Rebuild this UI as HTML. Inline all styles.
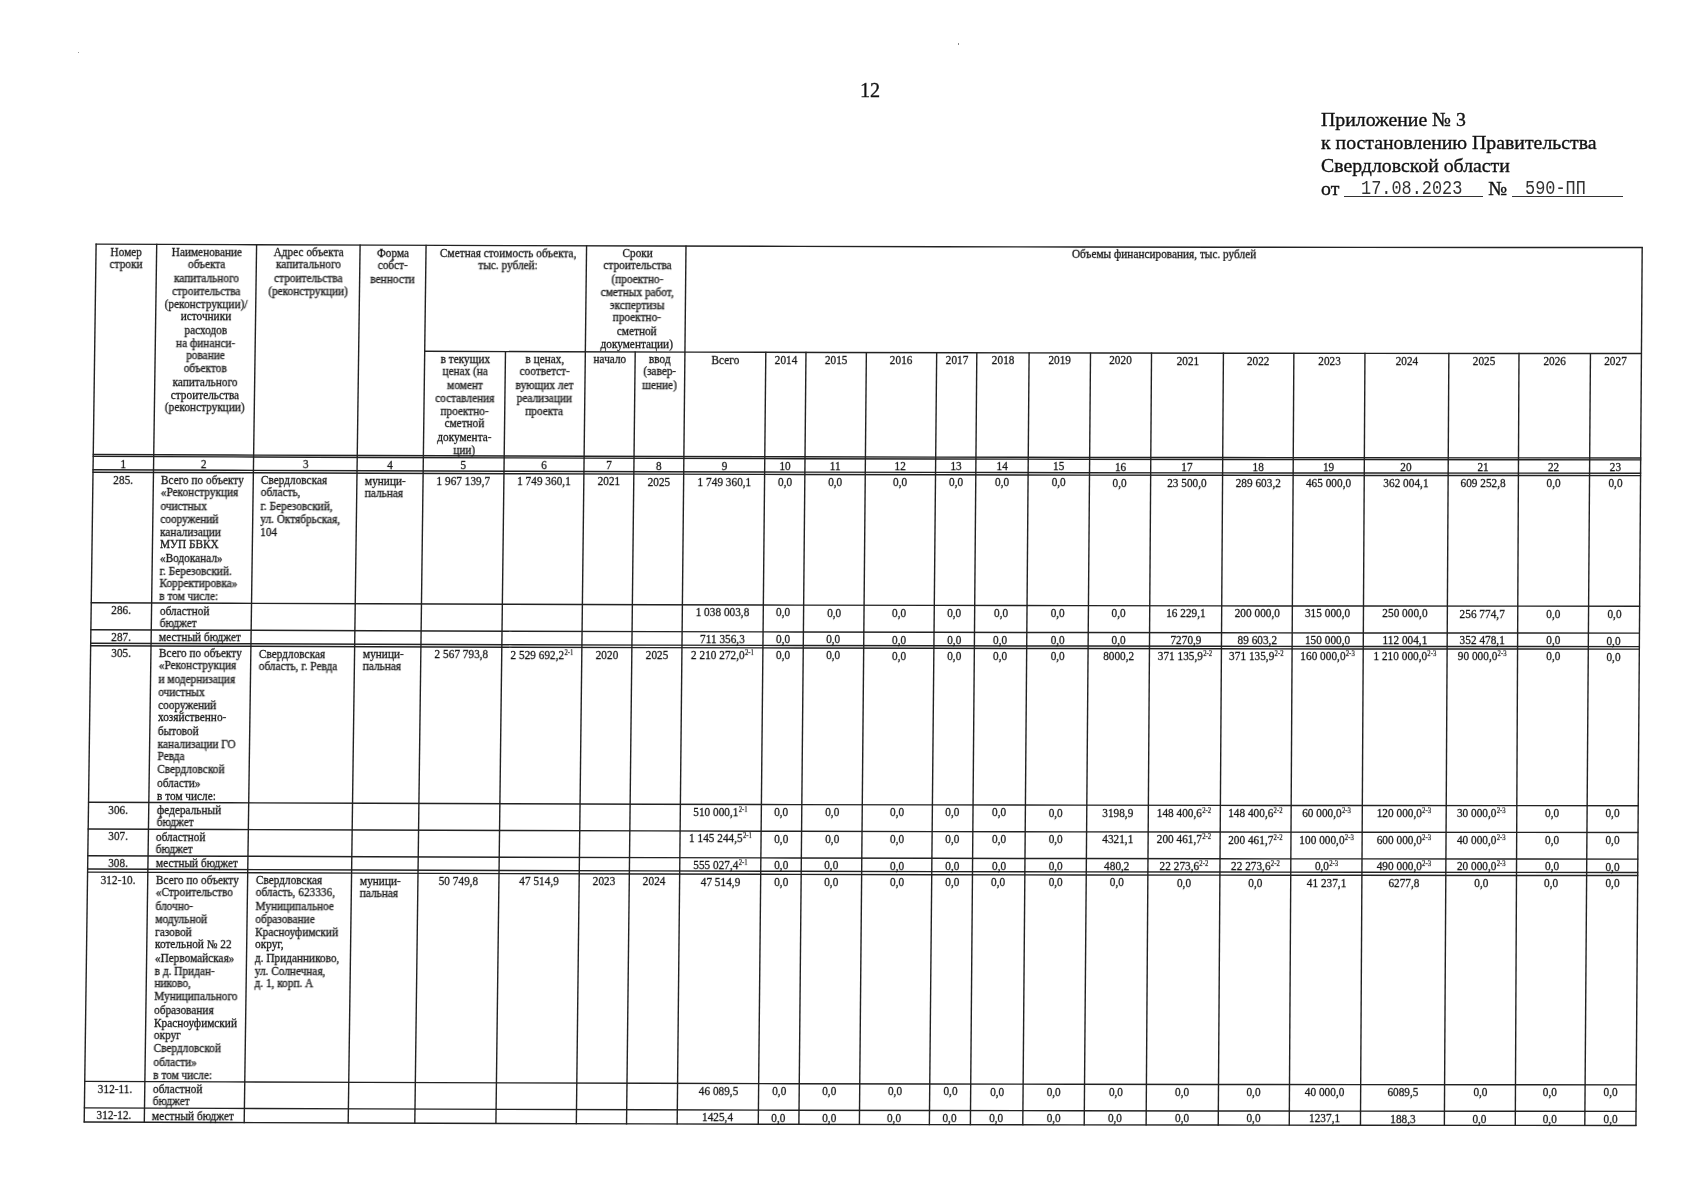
<!DOCTYPE html>
<html><head><meta charset="utf-8">
<style>
html,body{margin:0;padding:0;background:#fff;}
body{width:1702px;height:1200px;position:relative;overflow:hidden;font-family:"Liberation Serif",serif;color:#111;}
svg{position:absolute;left:0;top:0;}
svg line,svg polyline{stroke:#222;stroke-width:1.40;fill:none}
.t{position:absolute;font-size:11.30px;line-height:12.264px;white-space:nowrap;transform-origin:0 0;-webkit-text-stroke:0.25px #111;will-change:transform}
.sp{font-size:6.8px;vertical-align:3.0px;line-height:0;margin-left:0.2px;-webkit-text-stroke:0.15px #111}
.pg{position:absolute;font-size:20.2px;line-height:24px;-webkit-text-stroke:0.3px #111;will-change:transform}
.ap{position:absolute;font-size:19.8px;line-height:22.9px;white-space:nowrap;-webkit-text-stroke:0.35px #111;will-change:transform}
.ul{display:inline-block;border-bottom:1.4px solid #333;height:14px;vertical-align:-2px}
.sp2{display:inline-block;width:5px}
.mono{position:absolute;font-family:"Liberation Mono",monospace;font-size:16.9px;line-height:20px;transform:scaleY(1.17);transform-origin:0 0;color:#333}
</style></head><body>
<svg width="1702" height="1200" viewBox="0 0 1702 1200"><polyline points="95.52,244.10 236.18,244.63 376.84,245.13 517.50,245.61 658.17,246.04 798.83,246.41 939.49,246.73 1080.15,246.98 1220.81,247.18 1361.47,247.33 1502.14,247.45 1642.80,247.55"/><polyline points="424.12,351.30 559.44,351.74 694.77,352.14 830.09,352.49 965.42,352.78 1100.74,353.01 1236.07,353.20 1371.39,353.34 1506.71,353.45 1642.04,353.55"/><polyline points="92.66,454.49 233.45,455.02 374.23,455.53 515.02,456.00 655.80,456.43 796.59,456.81 937.37,457.12 1078.15,457.38 1218.94,457.57 1359.72,457.73 1500.51,457.85 1641.29,457.95"/><polyline points="92.64,456.39 233.42,456.92 374.21,457.43 514.99,457.90 655.78,458.33 796.57,458.71 937.35,459.02 1078.14,459.28 1218.92,459.47 1359.71,459.63 1500.49,459.75 1641.28,459.85"/><polyline points="92.46,469.79 233.25,470.32 374.04,470.82 514.84,471.30 655.63,471.73 796.42,472.11 937.22,472.42 1078.01,472.68 1218.80,472.87 1359.60,473.03 1500.39,473.15 1641.18,473.25"/><polyline points="92.42,472.19 233.22,472.72 374.01,473.22 514.81,473.70 655.60,474.13 796.40,474.51 937.19,474.82 1077.99,475.08 1218.78,475.27 1359.58,475.43 1500.37,475.55 1641.17,475.65"/><polyline points="90.65,602.79 231.52,603.31 372.39,603.82 513.26,604.30 654.13,604.73 795.01,605.10 935.88,605.42 1076.75,605.67 1217.62,605.87 1358.49,606.03 1499.36,606.15 1640.23,606.25"/><polyline points="90.29,629.69 231.17,630.21 372.06,630.72 512.95,631.19 653.83,631.63 794.72,632.00 935.61,632.32 1076.49,632.57 1217.38,632.77 1358.27,632.93 1499.15,633.05 1640.04,633.15"/><polyline points="90.10,643.19 231.00,643.71 371.89,644.22 512.79,644.69 653.68,645.13 794.58,645.50 935.47,645.82 1076.36,646.07 1217.26,646.27 1358.15,646.43 1499.05,646.55 1639.94,646.65"/><polyline points="90.07,645.69 230.96,646.21 371.86,646.72 512.76,647.19 653.65,647.63 794.55,648.00 935.44,648.32 1076.34,648.57 1217.24,648.77 1358.13,648.93 1499.03,649.05 1639.93,649.15"/><polyline points="87.94,802.28 228.93,802.80 369.92,803.31 510.90,803.79 651.89,804.22 792.88,804.60 933.87,804.91 1074.85,805.17 1215.84,805.37 1356.83,805.52 1497.82,805.64 1638.80,805.75"/><polyline points="87.58,828.98 228.58,829.50 369.59,830.01 510.59,830.49 651.59,830.92 792.60,831.30 933.60,831.61 1074.60,831.87 1215.60,832.07 1356.61,832.22 1497.61,832.34 1638.61,832.45"/><polyline points="87.22,855.68 228.24,856.20 369.25,856.71 510.27,857.19 651.29,857.62 792.31,858.00 933.33,858.31 1074.35,858.57 1215.37,858.77 1356.39,858.92 1497.40,859.04 1638.42,859.15"/><polyline points="87.04,868.98 228.06,869.50 369.09,870.01 510.12,870.49 651.14,870.92 792.17,871.30 933.20,871.61 1074.22,871.87 1215.25,872.07 1356.27,872.22 1497.30,872.34 1638.33,872.45"/><polyline points="86.99,872.08 228.02,872.60 369.05,873.11 510.08,873.59 651.11,874.02 792.14,874.40 933.16,874.71 1074.19,874.97 1215.22,875.17 1356.25,875.32 1497.28,875.44 1638.31,875.55"/><polyline points="84.15,1081.38 225.30,1081.89 366.45,1082.40 507.60,1082.88 648.75,1083.31 789.91,1083.69 931.06,1084.01 1072.21,1084.27 1213.36,1084.47 1354.51,1084.62 1495.66,1084.74 1636.81,1084.85"/><polyline points="83.79,1107.88 224.96,1108.39 366.13,1108.90 507.29,1109.38 648.46,1109.81 789.62,1110.19 930.79,1110.51 1071.95,1110.77 1213.12,1110.97 1354.29,1111.12 1495.45,1111.24 1636.62,1111.35"/><polyline points="83.60,1121.97 224.78,1122.48 365.95,1123.00 507.12,1123.48 648.30,1123.91 789.47,1124.29 930.65,1124.61 1071.82,1124.87 1213.00,1125.07 1354.17,1125.22 1495.34,1125.34 1636.52,1125.45"/><line x1="96.12" y1="243.50" x2="84.20" y2="1122.58"/><line x1="156.72" y1="243.73" x2="144.29" y2="1122.78"/><line x1="256.61" y1="244.10" x2="244.18" y2="1123.16"/><line x1="360.11" y1="244.48" x2="348.19" y2="1123.53"/><line x1="426.08" y1="244.71" x2="414.80" y2="1123.77"/><line x1="505.49" y1="350.97" x2="495.91" y2="1124.04"/><line x1="586.58" y1="245.23" x2="576.32" y2="1124.30"/><line x1="635.21" y1="351.37" x2="626.53" y2="1124.45"/><line x1="686.00" y1="245.52" x2="677.16" y2="1124.59"/><line x1="765.81" y1="351.73" x2="758.26" y2="1124.81"/><line x1="805.98" y1="351.83" x2="798.88" y2="1124.91"/><line x1="866.37" y1="351.97" x2="859.38" y2="1125.05"/><line x1="936.69" y1="352.12" x2="929.37" y2="1125.20"/><line x1="976.82" y1="352.20" x2="970.39" y2="1125.29"/><line x1="1029.11" y1="352.29" x2="1022.80" y2="1125.38"/><line x1="1090.51" y1="352.40" x2="1084.20" y2="1125.49"/><line x1="1151.53" y1="352.49" x2="1146.12" y2="1125.58"/><line x1="1223.42" y1="352.58" x2="1218.23" y2="1125.67"/><line x1="1293.87" y1="352.66" x2="1289.25" y2="1125.76"/><line x1="1364.96" y1="352.73" x2="1360.45" y2="1125.83"/><line x1="1448.86" y1="352.81" x2="1444.35" y2="1125.90"/><line x1="1519.00" y1="352.86" x2="1515.28" y2="1125.96"/><line x1="1590.45" y1="352.91" x2="1584.81" y2="1126.01"/><line x1="1642.20" y1="246.95" x2="1635.92" y2="1126.05"/></svg>
<div class="t" style="left:96.04px;top:244.61px;width:60.60px;text-align:center;transform:matrix(1,0.00223,-0.01387,1.060,0,0)">Номер<br>строки</div>
<div class="t" style="left:156.64px;top:244.86px;width:99.90px;text-align:center;transform:matrix(1,0.00223,-0.01416,1.060,0,0)">Наименование<br>объекта<br>капитального<br>строительства<br>(реконструкции)/<br>источники<br>расходов<br>на финанси-<br>рование<br>объектов<br>капитального<br>строительства<br>(реконструкции)</div>
<div class="t" style="left:256.54px;top:245.23px;width:103.50px;text-align:center;transform:matrix(1,0.00223,-0.01387,1.060,0,0)">Адрес объекта<br>капитального<br>строительства<br>(реконструкции)</div>
<div class="t" style="left:360.04px;top:245.58px;width:65.98px;text-align:center;transform:matrix(1,0.00223,-0.01321,1.060,0,0)">Форма<br>собст-<br>венности</div>
<div class="t" style="left:428.02px;top:245.85px;width:160.51px;text-align:center;transform:matrix(1,0.00223,-0.01226,1.060,0,0)">Сметная стоимость объекта,<br>тыс. рублей:</div>
<div class="t" style="left:588.03px;top:246.32px;width:99.44px;text-align:center;transform:matrix(1,0.00223,-0.01088,1.060,0,0)">Сроки<br>строительства<br>(проектно-<br>сметных работ,<br>экспертизы<br>проектно-<br>сметной<br>документации)</div>
<div class="t" style="left:685.96px;top:246.49px;width:956.22px;text-align:center;transform:matrix(1,0.00223,-0.00861,1.060,0,0)">Объемы финансирования, тыс. рублей</div>
<div class="t" style="left:424.66px;top:351.80px;width:80.77px;text-align:center;transform:matrix(1,0.00223,-0.01263,1.060,0,0)">в текущих<br>ценах (на<br>момент<br>составления<br>проектно-<br>сметной<br>документа-<br>ции)</div>
<div class="t" style="left:505.43px;top:352.07px;width:79.86px;text-align:center;transform:matrix(1,0.00223,-0.01204,1.060,0,0)">в ценах,<br>соответст-<br>вующих лет<br>реализации<br>проекта</div>
<div class="t" style="left:585.29px;top:352.30px;width:49.87px;text-align:center;transform:matrix(1,0.00223,-0.01146,1.060,0,0)">начало</div>
<div class="t" style="left:635.16px;top:352.45px;width:49.73px;text-align:center;transform:matrix(1,0.00223,-0.01066,1.060,0,0)">ввод<br>(завер-<br>шение)</div>
<div class="t" style="left:684.89px;top:352.59px;width:80.88px;text-align:center;transform:matrix(1,0.00223,-0.00993,1.060,0,0)">Всего</div>
<div class="t" style="left:765.78px;top:352.79px;width:40.17px;text-align:center;transform:matrix(1,0.00223,-0.00949,1.060,0,0)">2014</div>
<div class="t" style="left:805.94px;top:352.89px;width:60.39px;text-align:center;transform:matrix(1,0.00223,-0.00912,1.060,0,0)">2015</div>
<div class="t" style="left:866.33px;top:353.03px;width:70.33px;text-align:center;transform:matrix(1,0.00223,-0.00927,1.060,0,0)">2016</div>
<div class="t" style="left:936.66px;top:353.17px;width:40.13px;text-align:center;transform:matrix(1,0.00223,-0.00891,1.060,0,0)">2017</div>
<div class="t" style="left:976.79px;top:353.25px;width:52.29px;text-align:center;transform:matrix(1,0.00223,-0.00825,1.060,0,0)">2018</div>
<div class="t" style="left:1029.08px;top:353.33px;width:61.40px;text-align:center;transform:matrix(1,0.00223,-0.00818,1.060,0,0)">2019</div>
<div class="t" style="left:1090.48px;top:353.43px;width:61.03px;text-align:center;transform:matrix(1,0.00223,-0.00759,1.060,0,0)">2020</div>
<div class="t" style="left:1151.51px;top:353.51px;width:71.88px;text-align:center;transform:matrix(1,0.00223,-0.00686,1.060,0,0)">2021</div>
<div class="t" style="left:1223.40px;top:353.60px;width:70.46px;text-align:center;transform:matrix(1,0.00223,-0.00635,1.060,0,0)">2022</div>
<div class="t" style="left:1293.85px;top:353.68px;width:71.09px;text-align:center;transform:matrix(1,0.00223,-0.00591,1.060,0,0)">2023</div>
<div class="t" style="left:1364.94px;top:353.73px;width:83.90px;text-align:center;transform:matrix(1,0.00223,-0.00584,1.060,0,0)">2024</div>
<div class="t" style="left:1448.84px;top:353.81px;width:70.14px;text-align:center;transform:matrix(1,0.00223,-0.00533,1.060,0,0)">2025</div>
<div class="t" style="left:1518.98px;top:353.87px;width:71.45px;text-align:center;transform:matrix(1,0.00223,-0.00606,1.060,0,0)">2026</div>
<div class="t" style="left:1590.43px;top:353.93px;width:50.99px;text-align:center;transform:matrix(1,0.00223,-0.00723,1.060,0,0)">2027</div>
<div class="t" style="left:93.16px;top:456.70px;width:60.47px;text-align:center;transform:matrix(1,0.00223,-0.01387,1.060,0,0)">1</div>
<div class="t" style="left:153.63px;top:456.95px;width:99.90px;text-align:center;transform:matrix(1,0.00223,-0.01416,1.060,0,0)">2</div>
<div class="t" style="left:253.53px;top:457.32px;width:103.63px;text-align:center;transform:matrix(1,0.00223,-0.01387,1.060,0,0)">3</div>
<div class="t" style="left:357.16px;top:457.67px;width:66.13px;text-align:center;transform:matrix(1,0.00223,-0.01321,1.060,0,0)">4</div>
<div class="t" style="left:423.29px;top:457.90px;width:80.82px;text-align:center;transform:matrix(1,0.00223,-0.01263,1.060,0,0)">5</div>
<div class="t" style="left:504.11px;top:458.16px;width:79.93px;text-align:center;transform:matrix(1,0.00223,-0.01204,1.060,0,0)">6</div>
<div class="t" style="left:584.05px;top:458.40px;width:49.92px;text-align:center;transform:matrix(1,0.00223,-0.01146,1.060,0,0)">7</div>
<div class="t" style="left:633.97px;top:458.54px;width:49.86px;text-align:center;transform:matrix(1,0.00223,-0.01066,1.060,0,0)">8</div>
<div class="t" style="left:683.82px;top:458.69px;width:80.91px;text-align:center;transform:matrix(1,0.00223,-0.00993,1.060,0,0)">9</div>
<div class="t" style="left:764.74px;top:458.89px;width:40.23px;text-align:center;transform:matrix(1,0.00223,-0.00949,1.060,0,0)">10</div>
<div class="t" style="left:804.96px;top:458.99px;width:60.41px;text-align:center;transform:matrix(1,0.00223,-0.00912,1.060,0,0)">11</div>
<div class="t" style="left:865.37px;top:459.12px;width:70.28px;text-align:center;transform:matrix(1,0.00223,-0.00927,1.060,0,0)">12</div>
<div class="t" style="left:935.65px;top:459.27px;width:40.26px;text-align:center;transform:matrix(1,0.00223,-0.00891,1.060,0,0)">13</div>
<div class="t" style="left:975.91px;top:459.34px;width:52.31px;text-align:center;transform:matrix(1,0.00223,-0.00825,1.060,0,0)">14</div>
<div class="t" style="left:1028.21px;top:459.43px;width:61.40px;text-align:center;transform:matrix(1,0.00223,-0.00818,1.060,0,0)">15</div>
<div class="t" style="left:1089.61px;top:459.53px;width:61.16px;text-align:center;transform:matrix(1,0.00223,-0.00759,1.060,0,0)">16</div>
<div class="t" style="left:1150.77px;top:459.61px;width:71.91px;text-align:center;transform:matrix(1,0.00223,-0.00686,1.060,0,0)">17</div>
<div class="t" style="left:1222.68px;top:459.70px;width:70.53px;text-align:center;transform:matrix(1,0.00223,-0.00635,1.060,0,0)">18</div>
<div class="t" style="left:1293.22px;top:459.77px;width:71.11px;text-align:center;transform:matrix(1,0.00223,-0.00591,1.060,0,0)">19</div>
<div class="t" style="left:1364.32px;top:459.83px;width:83.90px;text-align:center;transform:matrix(1,0.00223,-0.00584,1.060,0,0)">20</div>
<div class="t" style="left:1448.22px;top:459.91px;width:70.25px;text-align:center;transform:matrix(1,0.00223,-0.00533,1.060,0,0)">21</div>
<div class="t" style="left:1518.47px;top:459.96px;width:71.18px;text-align:center;transform:matrix(1,0.00223,-0.00606,1.060,0,0)">22</div>
<div class="t" style="left:1589.65px;top:460.03px;width:51.01px;text-align:center;transform:matrix(1,0.00223,-0.00723,1.060,0,0)">23</div>
<div class="t" style="left:92.94px;top:472.70px;width:60.46px;text-align:center;transform:matrix(1,0.00223,-0.01387,1.060,0,0)">285.</div>
<div class="t" style="left:161.41px;top:472.95px;width:91.90px;text-align:left;transform:matrix(1,0.00223,-0.01416,1.060,0,0)">Всего по объекту<br>«Реконструкция<br>очистных<br>сооружений<br>канализации<br>МУП БВКХ<br>«Водоканал»<br>г. Березовский.<br>Корректировка»<br>в том числе:</div>
<div class="t" style="left:261.31px;top:473.32px;width:95.64px;text-align:left;transform:matrix(1,0.00223,-0.01387,1.060,0,0)">Свердловская<br>область,<br>г. Березовский,<br>ул. Октябрьская,<br>104</div>
<div class="t" style="left:364.94px;top:473.66px;width:58.15px;text-align:left;transform:matrix(1,0.00223,-0.01321,1.060,0,0)">муници-<br>пальная</div>
<div class="t" style="left:423.09px;top:473.90px;width:80.83px;text-align:center;transform:matrix(1,0.00223,-0.01263,1.060,0,0)">1 967 139,7</div>
<div class="t" style="left:503.92px;top:474.16px;width:79.95px;text-align:center;transform:matrix(1,0.00223,-0.01204,1.060,0,0)">1 749 360,1</div>
<div class="t" style="left:583.86px;top:474.40px;width:49.93px;text-align:center;transform:matrix(1,0.00223,-0.01146,1.060,0,0)">2021</div>
<div class="t" style="left:633.79px;top:474.54px;width:49.87px;text-align:center;transform:matrix(1,0.00223,-0.01066,1.060,0,0)">2025</div>
<div class="t" style="left:683.66px;top:474.69px;width:80.92px;text-align:center;transform:matrix(1,0.00223,-0.00993,1.060,0,0)">1 749 360,1</div>
<div class="t" style="left:764.58px;top:474.89px;width:40.24px;text-align:center;transform:matrix(1,0.00223,-0.00949,1.060,0,0)">0,0</div>
<div class="t" style="left:804.82px;top:474.99px;width:60.41px;text-align:center;transform:matrix(1,0.00223,-0.00912,1.060,0,0)">0,0</div>
<div class="t" style="left:865.23px;top:475.12px;width:70.27px;text-align:center;transform:matrix(1,0.00223,-0.00927,1.060,0,0)">0,0</div>
<div class="t" style="left:935.50px;top:475.27px;width:40.27px;text-align:center;transform:matrix(1,0.00223,-0.00891,1.060,0,0)">0,0</div>
<div class="t" style="left:975.77px;top:475.34px;width:52.31px;text-align:center;transform:matrix(1,0.00223,-0.00825,1.060,0,0)">0,0</div>
<div class="t" style="left:1028.08px;top:475.43px;width:61.40px;text-align:center;transform:matrix(1,0.00223,-0.00818,1.060,0,0)">0,0</div>
<div class="t" style="left:1089.48px;top:475.53px;width:61.17px;text-align:center;transform:matrix(1,0.00223,-0.00759,1.060,0,0)">0,0</div>
<div class="t" style="left:1150.66px;top:475.61px;width:71.92px;text-align:center;transform:matrix(1,0.00223,-0.00686,1.060,0,0)">23 500,0</div>
<div class="t" style="left:1222.58px;top:475.70px;width:70.55px;text-align:center;transform:matrix(1,0.00223,-0.00635,1.060,0,0)">289 603,2</div>
<div class="t" style="left:1293.12px;top:475.77px;width:71.11px;text-align:center;transform:matrix(1,0.00223,-0.00591,1.060,0,0)">465 000,0</div>
<div class="t" style="left:1364.23px;top:475.83px;width:83.90px;text-align:center;transform:matrix(1,0.00223,-0.00584,1.060,0,0)">362 004,1</div>
<div class="t" style="left:1448.13px;top:475.91px;width:70.26px;text-align:center;transform:matrix(1,0.00223,-0.00533,1.060,0,0)">609 252,8</div>
<div class="t" style="left:1518.40px;top:475.96px;width:71.14px;text-align:center;transform:matrix(1,0.00223,-0.00606,1.060,0,0)">0,0</div>
<div class="t" style="left:1589.54px;top:476.03px;width:51.01px;text-align:center;transform:matrix(1,0.00223,-0.00723,1.060,0,0)">0,0</div>
<div class="t" style="left:91.17px;top:603.29px;width:60.39px;text-align:center;transform:matrix(1,0.00223,-0.01387,1.060,0,0)">286.</div>
<div class="t" style="left:159.56px;top:603.54px;width:91.90px;text-align:left;transform:matrix(1,0.00223,-0.01416,1.060,0,0)">областной<br>бюджет</div>
<div class="t" style="left:682.35px;top:605.28px;width:80.96px;text-align:center;transform:matrix(1,0.00223,-0.00993,1.060,0,0)">1 038 003,8</div>
<div class="t" style="left:763.30px;top:605.49px;width:40.31px;text-align:center;transform:matrix(1,0.00223,-0.00949,1.060,0,0)">0,0</div>
<div class="t" style="left:803.62px;top:605.59px;width:60.43px;text-align:center;transform:matrix(1,0.00223,-0.00912,1.060,0,0)">0,0</div>
<div class="t" style="left:864.05px;top:605.72px;width:70.22px;text-align:center;transform:matrix(1,0.00223,-0.00927,1.060,0,0)">0,0</div>
<div class="t" style="left:934.26px;top:605.87px;width:40.43px;text-align:center;transform:matrix(1,0.00223,-0.00891,1.060,0,0)">0,0</div>
<div class="t" style="left:974.69px;top:605.94px;width:52.33px;text-align:center;transform:matrix(1,0.00223,-0.00825,1.060,0,0)">0,0</div>
<div class="t" style="left:1027.02px;top:606.03px;width:61.40px;text-align:center;transform:matrix(1,0.00223,-0.00818,1.060,0,0)">0,0</div>
<div class="t" style="left:1088.42px;top:606.13px;width:61.33px;text-align:center;transform:matrix(1,0.00223,-0.00759,1.060,0,0)">0,0</div>
<div class="t" style="left:1149.74px;top:606.21px;width:71.96px;text-align:center;transform:matrix(1,0.00223,-0.00686,1.060,0,0)">16 229,1</div>
<div class="t" style="left:1221.70px;top:606.30px;width:70.64px;text-align:center;transform:matrix(1,0.00223,-0.00635,1.060,0,0)">200 000,0</div>
<div class="t" style="left:1292.34px;top:606.37px;width:71.13px;text-align:center;transform:matrix(1,0.00223,-0.00591,1.060,0,0)">315 000,0</div>
<div class="t" style="left:1363.47px;top:606.43px;width:83.90px;text-align:center;transform:matrix(1,0.00223,-0.00584,1.060,0,0)">250 000,0</div>
<div class="t" style="left:1447.37px;top:606.51px;width:70.40px;text-align:center;transform:matrix(1,0.00223,-0.00533,1.060,0,0)">256 774,7</div>
<div class="t" style="left:1517.77px;top:606.56px;width:70.82px;text-align:center;transform:matrix(1,0.00223,-0.00606,1.060,0,0)">0,0</div>
<div class="t" style="left:1588.59px;top:606.63px;width:51.03px;text-align:center;transform:matrix(1,0.00223,-0.00723,1.060,0,0)">0,0</div>
<div class="t" style="left:90.80px;top:630.19px;width:60.37px;text-align:center;transform:matrix(1,0.00223,-0.01387,1.060,0,0)">287.</div>
<div class="t" style="left:159.17px;top:630.44px;width:91.90px;text-align:left;transform:matrix(1,0.00223,-0.01416,1.060,0,0)">местный бюджет</div>
<div class="t" style="left:682.08px;top:632.18px;width:80.96px;text-align:center;transform:matrix(1,0.00223,-0.00993,1.060,0,0)">711 356,3</div>
<div class="t" style="left:763.04px;top:632.39px;width:40.33px;text-align:center;transform:matrix(1,0.00223,-0.00949,1.060,0,0)">0,0</div>
<div class="t" style="left:803.37px;top:632.49px;width:60.43px;text-align:center;transform:matrix(1,0.00223,-0.00912,1.060,0,0)">0,0</div>
<div class="t" style="left:863.80px;top:632.62px;width:70.20px;text-align:center;transform:matrix(1,0.00223,-0.00927,1.060,0,0)">0,0</div>
<div class="t" style="left:934.01px;top:632.77px;width:40.46px;text-align:center;transform:matrix(1,0.00223,-0.00891,1.060,0,0)">0,0</div>
<div class="t" style="left:974.46px;top:632.84px;width:52.33px;text-align:center;transform:matrix(1,0.00223,-0.00825,1.060,0,0)">0,0</div>
<div class="t" style="left:1026.80px;top:632.93px;width:61.40px;text-align:center;transform:matrix(1,0.00223,-0.00818,1.060,0,0)">0,0</div>
<div class="t" style="left:1088.20px;top:633.03px;width:61.36px;text-align:center;transform:matrix(1,0.00223,-0.00759,1.060,0,0)">0,0</div>
<div class="t" style="left:1149.55px;top:633.11px;width:71.96px;text-align:center;transform:matrix(1,0.00223,-0.00686,1.060,0,0)">7270,9</div>
<div class="t" style="left:1221.52px;top:633.20px;width:70.66px;text-align:center;transform:matrix(1,0.00223,-0.00635,1.060,0,0)">89 603,2</div>
<div class="t" style="left:1292.18px;top:633.27px;width:71.13px;text-align:center;transform:matrix(1,0.00223,-0.00591,1.060,0,0)">150 000,0</div>
<div class="t" style="left:1363.31px;top:633.33px;width:83.90px;text-align:center;transform:matrix(1,0.00223,-0.00584,1.060,0,0)">112 004,1</div>
<div class="t" style="left:1447.21px;top:633.41px;width:70.43px;text-align:center;transform:matrix(1,0.00223,-0.00533,1.060,0,0)">352 478,1</div>
<div class="t" style="left:1517.64px;top:633.46px;width:70.75px;text-align:center;transform:matrix(1,0.00223,-0.00606,1.060,0,0)">0,0</div>
<div class="t" style="left:1588.39px;top:633.53px;width:51.03px;text-align:center;transform:matrix(1,0.00223,-0.00723,1.060,0,0)">0,0</div>
<div class="t" style="left:90.59px;top:646.19px;width:60.36px;text-align:center;transform:matrix(1,0.00223,-0.01387,1.060,0,0)">305.</div>
<div class="t" style="left:158.95px;top:646.44px;width:91.90px;text-align:left;transform:matrix(1,0.00223,-0.01416,1.060,0,0)">Всего по объекту<br>«Реконструкция<br>и модернизация<br>очистных<br>сооружений<br>хозяйственно-<br>бытовой<br>канализации ГО<br>Ревда<br>Свердловской<br>области»<br>в том числе:</div>
<div class="t" style="left:258.85px;top:646.81px;width:95.74px;text-align:left;transform:matrix(1,0.00223,-0.01387,1.060,0,0)">Свердловская<br>область, г. Ревда</div>
<div class="t" style="left:362.59px;top:647.16px;width:58.27px;text-align:left;transform:matrix(1,0.00223,-0.01321,1.060,0,0)">муници-<br>пальная</div>
<div class="t" style="left:420.86px;top:647.39px;width:80.90px;text-align:center;transform:matrix(1,0.00223,-0.01263,1.060,0,0)">2 567 793,8</div>
<div class="t" style="left:501.76px;top:647.66px;width:80.07px;text-align:center;transform:matrix(1,0.00223,-0.01204,1.060,0,0)">2 529 692,2<span class="sp">2-1</span></div>
<div class="t" style="left:581.84px;top:647.89px;width:50.00px;text-align:center;transform:matrix(1,0.00223,-0.01146,1.060,0,0)">2020</div>
<div class="t" style="left:631.84px;top:648.04px;width:50.08px;text-align:center;transform:matrix(1,0.00223,-0.01066,1.060,0,0)">2025</div>
<div class="t" style="left:681.92px;top:648.18px;width:80.97px;text-align:center;transform:matrix(1,0.00223,-0.00993,1.060,0,0)">2 210 272,0<span class="sp">2-1</span></div>
<div class="t" style="left:762.88px;top:648.39px;width:40.34px;text-align:center;transform:matrix(1,0.00223,-0.00949,1.060,0,0)">0,0</div>
<div class="t" style="left:803.22px;top:648.48px;width:60.43px;text-align:center;transform:matrix(1,0.00223,-0.00912,1.060,0,0)">0,0</div>
<div class="t" style="left:863.66px;top:648.62px;width:70.20px;text-align:center;transform:matrix(1,0.00223,-0.00927,1.060,0,0)">0,0</div>
<div class="t" style="left:933.85px;top:648.77px;width:40.48px;text-align:center;transform:matrix(1,0.00223,-0.00891,1.060,0,0)">0,0</div>
<div class="t" style="left:974.33px;top:648.84px;width:52.33px;text-align:center;transform:matrix(1,0.00223,-0.00825,1.060,0,0)">0,0</div>
<div class="t" style="left:1026.66px;top:648.93px;width:61.40px;text-align:center;transform:matrix(1,0.00223,-0.00818,1.060,0,0)">0,0</div>
<div class="t" style="left:1088.06px;top:649.03px;width:61.38px;text-align:center;transform:matrix(1,0.00223,-0.00759,1.060,0,0)">8000,2</div>
<div class="t" style="left:1149.44px;top:649.11px;width:71.97px;text-align:center;transform:matrix(1,0.00223,-0.00686,1.060,0,0)">371 135,9<span class="sp">2-2</span></div>
<div class="t" style="left:1221.41px;top:649.20px;width:70.67px;text-align:center;transform:matrix(1,0.00223,-0.00635,1.060,0,0)">371 135,9<span class="sp">2-2</span></div>
<div class="t" style="left:1292.08px;top:649.27px;width:71.13px;text-align:center;transform:matrix(1,0.00223,-0.00591,1.060,0,0)">160 000,0<span class="sp">2-3</span></div>
<div class="t" style="left:1363.22px;top:649.33px;width:83.90px;text-align:center;transform:matrix(1,0.00223,-0.00584,1.060,0,0)">1 210 000,0<span class="sp">2-3</span></div>
<div class="t" style="left:1447.12px;top:649.41px;width:70.44px;text-align:center;transform:matrix(1,0.00223,-0.00533,1.060,0,0)">90 000,0<span class="sp">2-3</span></div>
<div class="t" style="left:1517.56px;top:649.46px;width:70.71px;text-align:center;transform:matrix(1,0.00223,-0.00606,1.060,0,0)">0,0</div>
<div class="t" style="left:1588.27px;top:649.53px;width:51.03px;text-align:center;transform:matrix(1,0.00223,-0.00723,1.060,0,0)">0,0</div>
<div class="t" style="left:88.46px;top:802.78px;width:60.27px;text-align:center;transform:matrix(1,0.00223,-0.01387,1.060,0,0)">306.</div>
<div class="t" style="left:156.73px;top:803.03px;width:91.90px;text-align:left;transform:matrix(1,0.00223,-0.01416,1.060,0,0)">федеральный<br>бюджет</div>
<div class="t" style="left:680.34px;top:804.78px;width:81.01px;text-align:center;transform:matrix(1,0.00223,-0.00993,1.060,0,0)">510 000,1<span class="sp">2-1</span></div>
<div class="t" style="left:761.35px;top:804.98px;width:40.43px;text-align:center;transform:matrix(1,0.00223,-0.00949,1.060,0,0)">0,0</div>
<div class="t" style="left:801.78px;top:805.08px;width:60.46px;text-align:center;transform:matrix(1,0.00223,-0.00912,1.060,0,0)">0,0</div>
<div class="t" style="left:862.24px;top:805.22px;width:70.13px;text-align:center;transform:matrix(1,0.00223,-0.00927,1.060,0,0)">0,0</div>
<div class="t" style="left:932.37px;top:805.36px;width:40.66px;text-align:center;transform:matrix(1,0.00223,-0.00891,1.060,0,0)">0,0</div>
<div class="t" style="left:973.03px;top:805.44px;width:52.36px;text-align:center;transform:matrix(1,0.00223,-0.00825,1.060,0,0)">0,0</div>
<div class="t" style="left:1025.38px;top:805.53px;width:61.40px;text-align:center;transform:matrix(1,0.00223,-0.00818,1.060,0,0)">0,0</div>
<div class="t" style="left:1086.78px;top:805.63px;width:61.56px;text-align:center;transform:matrix(1,0.00223,-0.00759,1.060,0,0)">3198,9</div>
<div class="t" style="left:1148.34px;top:805.71px;width:72.01px;text-align:center;transform:matrix(1,0.00223,-0.00686,1.060,0,0)">148 400,6<span class="sp">2-2</span></div>
<div class="t" style="left:1220.36px;top:805.80px;width:70.79px;text-align:center;transform:matrix(1,0.00223,-0.00635,1.060,0,0)">148 400,6<span class="sp">2-2</span></div>
<div class="t" style="left:1291.15px;top:805.87px;width:71.16px;text-align:center;transform:matrix(1,0.00223,-0.00591,1.060,0,0)">60 000,0<span class="sp">2-3</span></div>
<div class="t" style="left:1362.30px;top:805.93px;width:83.90px;text-align:center;transform:matrix(1,0.00223,-0.00584,1.060,0,0)">120 000,0<span class="sp">2-3</span></div>
<div class="t" style="left:1446.20px;top:806.01px;width:70.60px;text-align:center;transform:matrix(1,0.00223,-0.00533,1.060,0,0)">30 000,0<span class="sp">2-3</span></div>
<div class="t" style="left:1516.81px;top:806.06px;width:70.32px;text-align:center;transform:matrix(1,0.00223,-0.00606,1.060,0,0)">0,0</div>
<div class="t" style="left:1587.13px;top:806.13px;width:51.06px;text-align:center;transform:matrix(1,0.00223,-0.00723,1.060,0,0)">0,0</div>
<div class="t" style="left:88.10px;top:829.48px;width:60.25px;text-align:center;transform:matrix(1,0.00223,-0.01387,1.060,0,0)">307.</div>
<div class="t" style="left:156.35px;top:829.73px;width:91.90px;text-align:left;transform:matrix(1,0.00223,-0.01416,1.060,0,0)">областной<br>бюджет</div>
<div class="t" style="left:680.07px;top:831.48px;width:81.02px;text-align:center;transform:matrix(1,0.00223,-0.00993,1.060,0,0)">1 145 244,5<span class="sp">2-1</span></div>
<div class="t" style="left:761.09px;top:831.68px;width:40.45px;text-align:center;transform:matrix(1,0.00223,-0.00949,1.060,0,0)">0,0</div>
<div class="t" style="left:801.54px;top:831.78px;width:60.46px;text-align:center;transform:matrix(1,0.00223,-0.00912,1.060,0,0)">0,0</div>
<div class="t" style="left:862.00px;top:831.92px;width:70.12px;text-align:center;transform:matrix(1,0.00223,-0.00927,1.060,0,0)">0,0</div>
<div class="t" style="left:932.11px;top:832.06px;width:40.69px;text-align:center;transform:matrix(1,0.00223,-0.00891,1.060,0,0)">0,0</div>
<div class="t" style="left:972.81px;top:832.14px;width:52.36px;text-align:center;transform:matrix(1,0.00223,-0.00825,1.060,0,0)">0,0</div>
<div class="t" style="left:1025.17px;top:832.23px;width:61.40px;text-align:center;transform:matrix(1,0.00223,-0.00818,1.060,0,0)">0,0</div>
<div class="t" style="left:1086.57px;top:832.32px;width:61.59px;text-align:center;transform:matrix(1,0.00223,-0.00759,1.060,0,0)">4321,1</div>
<div class="t" style="left:1148.16px;top:832.41px;width:72.02px;text-align:center;transform:matrix(1,0.00223,-0.00686,1.060,0,0)">200 461,7<span class="sp">2-2</span></div>
<div class="t" style="left:1220.18px;top:832.50px;width:70.81px;text-align:center;transform:matrix(1,0.00223,-0.00635,1.060,0,0)">200 461,7<span class="sp">2-2</span></div>
<div class="t" style="left:1290.99px;top:832.57px;width:71.16px;text-align:center;transform:matrix(1,0.00223,-0.00591,1.060,0,0)">100 000,0<span class="sp">2-3</span></div>
<div class="t" style="left:1362.15px;top:832.63px;width:83.90px;text-align:center;transform:matrix(1,0.00223,-0.00584,1.060,0,0)">600 000,0<span class="sp">2-3</span></div>
<div class="t" style="left:1446.05px;top:832.71px;width:70.63px;text-align:center;transform:matrix(1,0.00223,-0.00533,1.060,0,0)">40 000,0<span class="sp">2-3</span></div>
<div class="t" style="left:1516.68px;top:832.76px;width:70.26px;text-align:center;transform:matrix(1,0.00223,-0.00606,1.060,0,0)">0,0</div>
<div class="t" style="left:1586.93px;top:832.83px;width:51.06px;text-align:center;transform:matrix(1,0.00223,-0.00723,1.060,0,0)">0,0</div>
<div class="t" style="left:87.74px;top:856.18px;width:60.24px;text-align:center;transform:matrix(1,0.00223,-0.01387,1.060,0,0)">308.</div>
<div class="t" style="left:155.97px;top:856.43px;width:91.90px;text-align:left;transform:matrix(1,0.00223,-0.01416,1.060,0,0)">местный бюджет</div>
<div class="t" style="left:679.80px;top:858.18px;width:81.03px;text-align:center;transform:matrix(1,0.00223,-0.00993,1.060,0,0)">555 027,4<span class="sp">2-1</span></div>
<div class="t" style="left:760.83px;top:858.38px;width:40.46px;text-align:center;transform:matrix(1,0.00223,-0.00949,1.060,0,0)">0,0</div>
<div class="t" style="left:801.29px;top:858.48px;width:60.47px;text-align:center;transform:matrix(1,0.00223,-0.00912,1.060,0,0)">0,0</div>
<div class="t" style="left:861.76px;top:858.62px;width:70.10px;text-align:center;transform:matrix(1,0.00223,-0.00927,1.060,0,0)">0,0</div>
<div class="t" style="left:931.86px;top:858.76px;width:40.72px;text-align:center;transform:matrix(1,0.00223,-0.00891,1.060,0,0)">0,0</div>
<div class="t" style="left:972.58px;top:858.84px;width:52.37px;text-align:center;transform:matrix(1,0.00223,-0.00825,1.060,0,0)">0,0</div>
<div class="t" style="left:1024.95px;top:858.93px;width:61.40px;text-align:center;transform:matrix(1,0.00223,-0.00818,1.060,0,0)">0,0</div>
<div class="t" style="left:1086.35px;top:859.02px;width:61.62px;text-align:center;transform:matrix(1,0.00223,-0.00759,1.060,0,0)">480,2</div>
<div class="t" style="left:1147.97px;top:859.11px;width:72.03px;text-align:center;transform:matrix(1,0.00223,-0.00686,1.060,0,0)">22 273,6<span class="sp">2-2</span></div>
<div class="t" style="left:1220.00px;top:859.20px;width:70.83px;text-align:center;transform:matrix(1,0.00223,-0.00635,1.060,0,0)">22 273,6<span class="sp">2-2</span></div>
<div class="t" style="left:1290.83px;top:859.27px;width:71.17px;text-align:center;transform:matrix(1,0.00223,-0.00591,1.060,0,0)">0,0<span class="sp">2-3</span></div>
<div class="t" style="left:1361.99px;top:859.33px;width:83.90px;text-align:center;transform:matrix(1,0.00223,-0.00584,1.060,0,0)">490 000,0<span class="sp">2-3</span></div>
<div class="t" style="left:1445.89px;top:859.41px;width:70.66px;text-align:center;transform:matrix(1,0.00223,-0.00533,1.060,0,0)">20 000,0<span class="sp">2-3</span></div>
<div class="t" style="left:1516.55px;top:859.46px;width:70.19px;text-align:center;transform:matrix(1,0.00223,-0.00606,1.060,0,0)">0,0</div>
<div class="t" style="left:1586.74px;top:859.53px;width:51.07px;text-align:center;transform:matrix(1,0.00223,-0.00723,1.060,0,0)">0,0</div>
<div class="t" style="left:87.51px;top:872.58px;width:60.23px;text-align:center;transform:matrix(1,0.00223,-0.01387,1.060,0,0)">312-10.</div>
<div class="t" style="left:155.74px;top:872.83px;width:91.90px;text-align:left;transform:matrix(1,0.00223,-0.01416,1.060,0,0)">Всего по объекту<br>«Строительство<br>блочно-<br>модульной<br>газовой<br>котельной № 22<br>«Первомайская»<br>в д. Придан-<br>никово,<br>Муниципального<br>образования<br>Красноуфимский<br>округ<br>Свердловской<br>области»<br>в том числе:</div>
<div class="t" style="left:255.64px;top:873.20px;width:95.87px;text-align:left;transform:matrix(1,0.00223,-0.01387,1.060,0,0)">Свердловская<br>область, 623336,<br>Муниципальное<br>образование<br>Красноуфимский<br>округ,<br>д. Приданниково,<br>ул. Солнечная,<br>д. 1, корп. А</div>
<div class="t" style="left:359.51px;top:873.55px;width:58.44px;text-align:left;transform:matrix(1,0.00223,-0.01321,1.060,0,0)">муници-<br>пальная</div>
<div class="t" style="left:417.95px;top:873.78px;width:81.00px;text-align:center;transform:matrix(1,0.00223,-0.01263,1.060,0,0)">50 749,8</div>
<div class="t" style="left:498.95px;top:874.05px;width:80.24px;text-align:center;transform:matrix(1,0.00223,-0.01204,1.060,0,0)">47 514,9</div>
<div class="t" style="left:579.19px;top:874.28px;width:50.10px;text-align:center;transform:matrix(1,0.00223,-0.01146,1.060,0,0)">2023</div>
<div class="t" style="left:629.29px;top:874.43px;width:50.34px;text-align:center;transform:matrix(1,0.00223,-0.01066,1.060,0,0)">2024</div>
<div class="t" style="left:679.64px;top:874.58px;width:81.04px;text-align:center;transform:matrix(1,0.00223,-0.00993,1.060,0,0)">47 514,9</div>
<div class="t" style="left:760.67px;top:874.78px;width:40.47px;text-align:center;transform:matrix(1,0.00223,-0.00949,1.060,0,0)">0,0</div>
<div class="t" style="left:801.14px;top:874.88px;width:60.47px;text-align:center;transform:matrix(1,0.00223,-0.00912,1.060,0,0)">0,0</div>
<div class="t" style="left:861.61px;top:875.02px;width:70.10px;text-align:center;transform:matrix(1,0.00223,-0.00927,1.060,0,0)">0,0</div>
<div class="t" style="left:931.71px;top:875.16px;width:40.74px;text-align:center;transform:matrix(1,0.00223,-0.00891,1.060,0,0)">0,0</div>
<div class="t" style="left:972.45px;top:875.24px;width:52.37px;text-align:center;transform:matrix(1,0.00223,-0.00825,1.060,0,0)">0,0</div>
<div class="t" style="left:1024.81px;top:875.33px;width:61.40px;text-align:center;transform:matrix(1,0.00223,-0.00818,1.060,0,0)">0,0</div>
<div class="t" style="left:1086.21px;top:875.42px;width:61.64px;text-align:center;transform:matrix(1,0.00223,-0.00759,1.060,0,0)">0,0</div>
<div class="t" style="left:1147.85px;top:875.51px;width:72.04px;text-align:center;transform:matrix(1,0.00223,-0.00686,1.060,0,0)">0,0</div>
<div class="t" style="left:1219.89px;top:875.60px;width:70.84px;text-align:center;transform:matrix(1,0.00223,-0.00635,1.060,0,0)">0,0</div>
<div class="t" style="left:1290.73px;top:875.67px;width:71.17px;text-align:center;transform:matrix(1,0.00223,-0.00591,1.060,0,0)">41 237,1</div>
<div class="t" style="left:1361.90px;top:875.73px;width:83.90px;text-align:center;transform:matrix(1,0.00223,-0.00584,1.060,0,0)">6277,8</div>
<div class="t" style="left:1445.80px;top:875.81px;width:70.67px;text-align:center;transform:matrix(1,0.00223,-0.00533,1.060,0,0)">0,0</div>
<div class="t" style="left:1516.47px;top:875.86px;width:70.15px;text-align:center;transform:matrix(1,0.00223,-0.00606,1.060,0,0)">0,0</div>
<div class="t" style="left:1586.62px;top:875.93px;width:51.07px;text-align:center;transform:matrix(1,0.00223,-0.00723,1.060,0,0)">0,0</div>
<div class="t" style="left:84.67px;top:1081.86px;width:60.11px;text-align:center;transform:matrix(1,0.00223,-0.01387,1.060,0,0)">312-11.</div>
<div class="t" style="left:152.78px;top:1082.12px;width:91.90px;text-align:left;transform:matrix(1,0.00223,-0.01416,1.060,0,0)">областной<br>бюджет</div>
<div class="t" style="left:677.53px;top:1083.87px;width:81.10px;text-align:center;transform:matrix(1,0.00223,-0.00993,1.060,0,0)">46 089,5</div>
<div class="t" style="left:758.62px;top:1084.07px;width:40.59px;text-align:center;transform:matrix(1,0.00223,-0.00949,1.060,0,0)">0,0</div>
<div class="t" style="left:799.22px;top:1084.18px;width:60.50px;text-align:center;transform:matrix(1,0.00223,-0.00912,1.060,0,0)">0,0</div>
<div class="t" style="left:859.71px;top:1084.31px;width:70.01px;text-align:center;transform:matrix(1,0.00223,-0.00927,1.060,0,0)">0,0</div>
<div class="t" style="left:929.72px;top:1084.46px;width:40.99px;text-align:center;transform:matrix(1,0.00223,-0.00891,1.060,0,0)">0,0</div>
<div class="t" style="left:970.70px;top:1084.53px;width:52.40px;text-align:center;transform:matrix(1,0.00223,-0.00825,1.060,0,0)">0,0</div>
<div class="t" style="left:1023.10px;top:1084.62px;width:61.40px;text-align:center;transform:matrix(1,0.00223,-0.00818,1.060,0,0)">0,0</div>
<div class="t" style="left:1084.50px;top:1084.72px;width:61.89px;text-align:center;transform:matrix(1,0.00223,-0.00759,1.060,0,0)">0,0</div>
<div class="t" style="left:1146.39px;top:1084.80px;width:72.10px;text-align:center;transform:matrix(1,0.00223,-0.00686,1.060,0,0)">0,0</div>
<div class="t" style="left:1218.48px;top:1084.89px;width:70.99px;text-align:center;transform:matrix(1,0.00223,-0.00635,1.060,0,0)">0,0</div>
<div class="t" style="left:1289.48px;top:1084.97px;width:71.20px;text-align:center;transform:matrix(1,0.00223,-0.00591,1.060,0,0)">40 000,0</div>
<div class="t" style="left:1360.67px;top:1085.03px;width:83.90px;text-align:center;transform:matrix(1,0.00223,-0.00584,1.060,0,0)">6089,5</div>
<div class="t" style="left:1444.57px;top:1085.11px;width:70.89px;text-align:center;transform:matrix(1,0.00223,-0.00533,1.060,0,0)">0,0</div>
<div class="t" style="left:1515.46px;top:1085.16px;width:69.63px;text-align:center;transform:matrix(1,0.00223,-0.00606,1.060,0,0)">0,0</div>
<div class="t" style="left:1585.09px;top:1085.23px;width:51.10px;text-align:center;transform:matrix(1,0.00223,-0.00723,1.060,0,0)">0,0</div>
<div class="t" style="left:84.31px;top:1108.36px;width:60.09px;text-align:center;transform:matrix(1,0.00223,-0.01387,1.060,0,0)">312-12.</div>
<div class="t" style="left:152.40px;top:1108.62px;width:91.90px;text-align:left;transform:matrix(1,0.00223,-0.01416,1.060,0,0)">местный бюджет</div>
<div class="t" style="left:677.26px;top:1110.37px;width:81.10px;text-align:center;transform:matrix(1,0.00223,-0.00993,1.060,0,0)">1425,4</div>
<div class="t" style="left:758.36px;top:1110.57px;width:40.61px;text-align:center;transform:matrix(1,0.00223,-0.00949,1.060,0,0)">0,0</div>
<div class="t" style="left:798.97px;top:1110.67px;width:60.50px;text-align:center;transform:matrix(1,0.00223,-0.00912,1.060,0,0)">0,0</div>
<div class="t" style="left:859.47px;top:1110.81px;width:69.99px;text-align:center;transform:matrix(1,0.00223,-0.00927,1.060,0,0)">0,0</div>
<div class="t" style="left:929.47px;top:1110.96px;width:41.02px;text-align:center;transform:matrix(1,0.00223,-0.00891,1.060,0,0)">0,0</div>
<div class="t" style="left:970.48px;top:1111.03px;width:52.40px;text-align:center;transform:matrix(1,0.00223,-0.00825,1.060,0,0)">0,0</div>
<div class="t" style="left:1022.89px;top:1111.12px;width:61.40px;text-align:center;transform:matrix(1,0.00223,-0.00818,1.060,0,0)">0,0</div>
<div class="t" style="left:1084.29px;top:1111.22px;width:61.92px;text-align:center;transform:matrix(1,0.00223,-0.00759,1.060,0,0)">0,0</div>
<div class="t" style="left:1146.20px;top:1111.30px;width:72.10px;text-align:center;transform:matrix(1,0.00223,-0.00686,1.060,0,0)">0,0</div>
<div class="t" style="left:1218.31px;top:1111.39px;width:71.01px;text-align:center;transform:matrix(1,0.00223,-0.00635,1.060,0,0)">0,0</div>
<div class="t" style="left:1289.32px;top:1111.47px;width:71.20px;text-align:center;transform:matrix(1,0.00223,-0.00591,1.060,0,0)">1237,1</div>
<div class="t" style="left:1360.52px;top:1111.53px;width:83.90px;text-align:center;transform:matrix(1,0.00223,-0.00584,1.060,0,0)">188,3</div>
<div class="t" style="left:1444.42px;top:1111.61px;width:70.91px;text-align:center;transform:matrix(1,0.00223,-0.00533,1.060,0,0)">0,0</div>
<div class="t" style="left:1515.33px;top:1111.66px;width:69.57px;text-align:center;transform:matrix(1,0.00223,-0.00606,1.060,0,0)">0,0</div>
<div class="t" style="left:1584.90px;top:1111.73px;width:51.10px;text-align:center;transform:matrix(1,0.00223,-0.00723,1.060,0,0)">0,0</div>
<div class="pg" style="left:859.5px;top:78px">12</div>
<div class="ap" style="left:1320.5px;top:107.67px">Приложение № 3<br>к постановлению Правительства<br>Свердловской области<br>от <span class="ul" style="width:139px"></span><span class="sp2"></span>№ <span class="ul" style="width:111px"></span></div>
<div class="mono" style="left:1361px;top:178px">17.08.2023</div>
<div class="mono" style="left:1525px;top:178px">590-ПП</div>
<div style="position:absolute;left:78px;top:52px;width:1px;height:1px;background:#999"></div>
<div style="position:absolute;left:958px;top:43px;width:1px;height:2px;background:#888"></div>
</body></html>
